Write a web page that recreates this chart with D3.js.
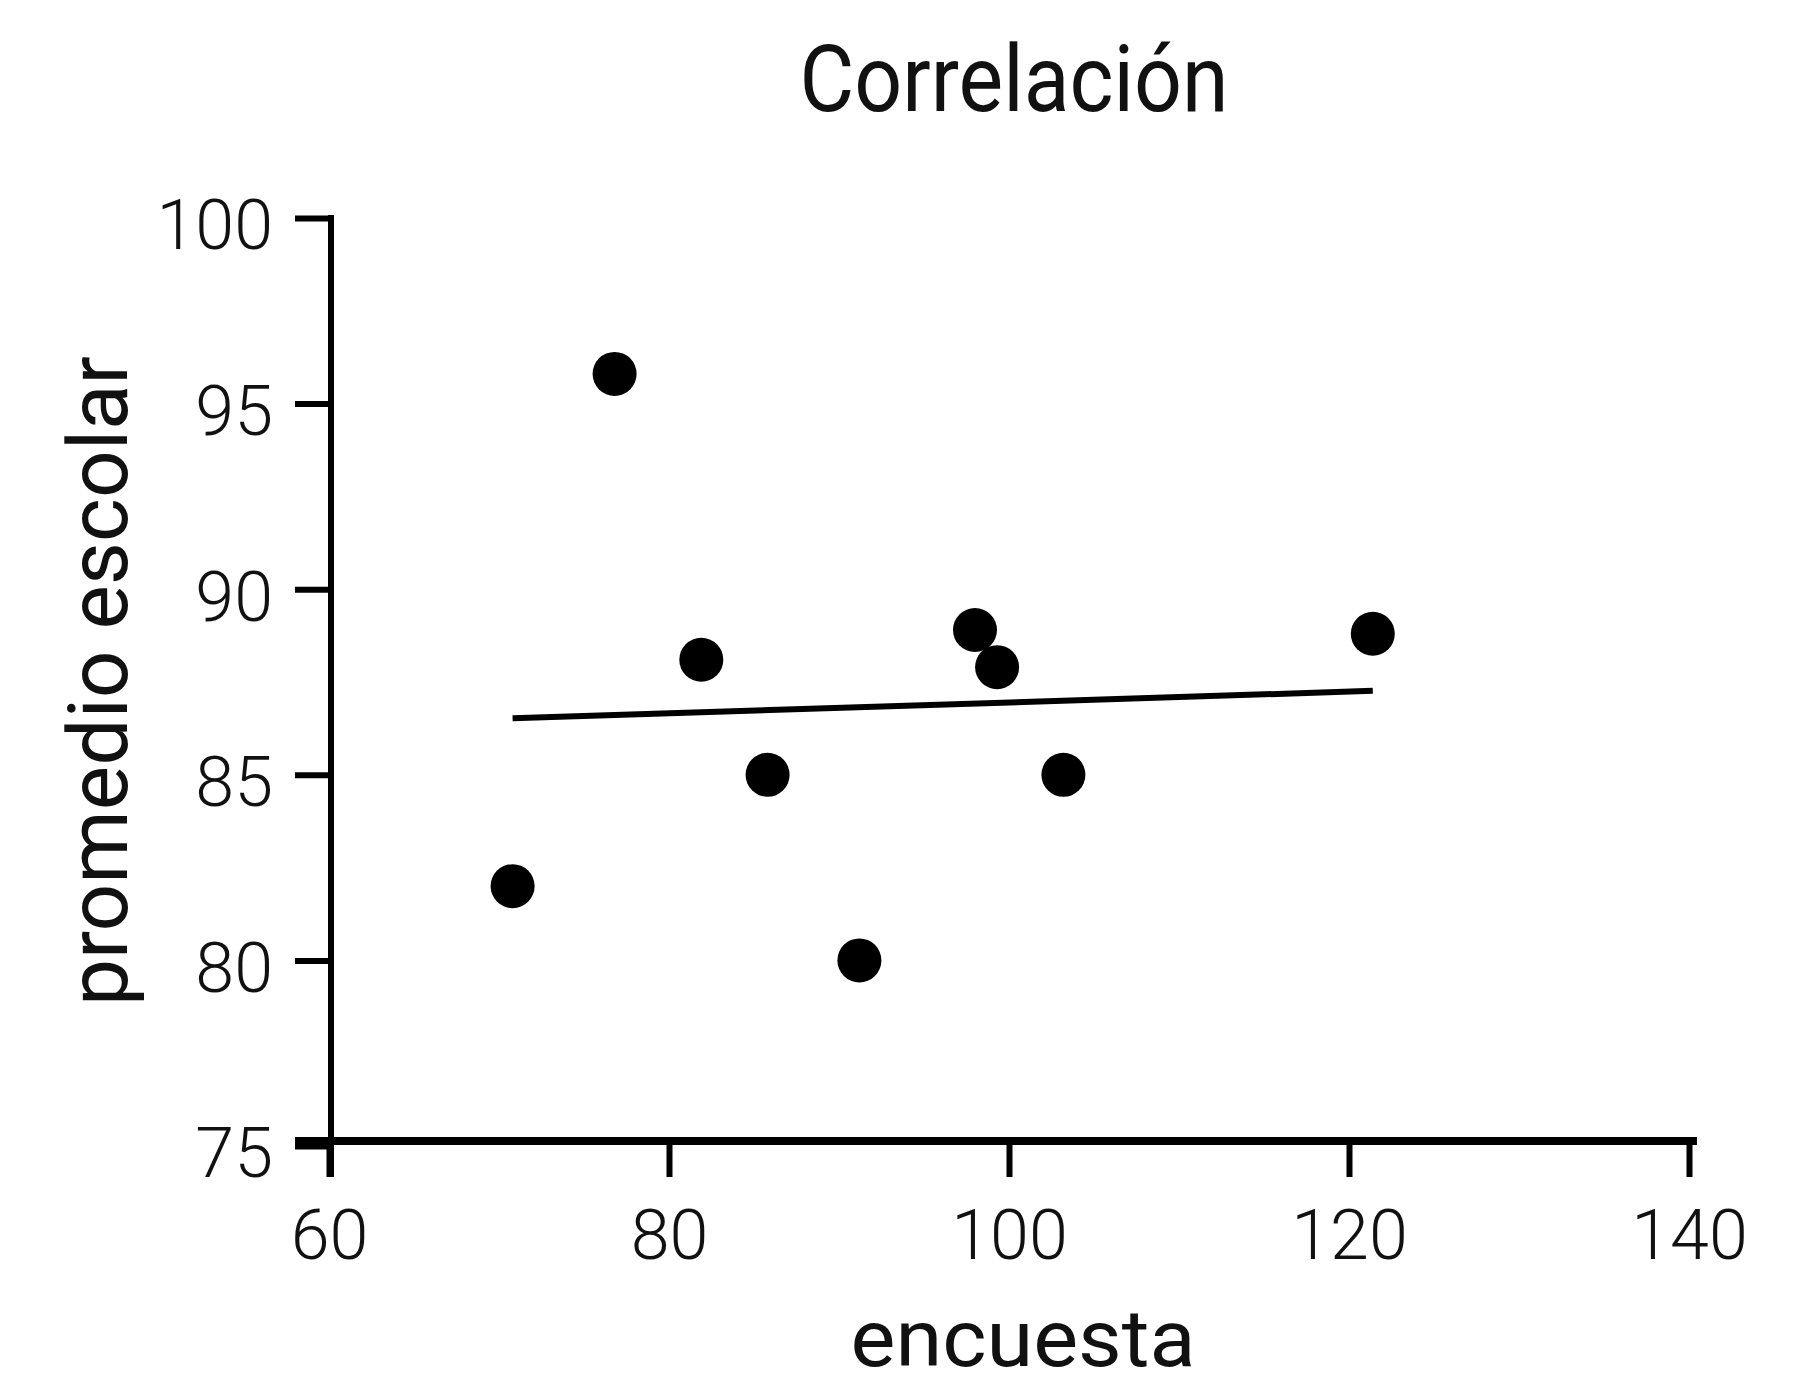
<!DOCTYPE html>
<html>
<head>
<meta charset="utf-8">
<script src="https://cdn.jsdelivr.net/npm/d3@7"></script>
<style>
  body { margin: 0; background: #fff; }
  text { font-family: Roboto, "Open Sans", sans-serif; fill: #111; }
</style>
</head>
<body>
<svg width="1803" height="1389"></svg>
<script>
let svg = d3.select('svg');

// data
let encuesta = [70.8, 76.8, 81.9, 85.8, 91.2, 98.0, 99.3, 103.2, 121.4];
let promedio = [82.0, 95.8, 88.1, 85.0, 80.0, 88.9, 87.9, 85.0, 88.8];
let xTicks = [60, 80, 100, 120, 140];
let yTicks = [75, 80, 85, 90, 95, 100];

let points = encuesta.map((d, i) => ({ x: d, y: promedio[i] }));

let xScale = d3.scaleLinear().domain([60, 140]).range([329, 1689]);
let yScale = d3.scaleLinear().domain([75, 100]).range([1146, 218]);

let axisY = 1141;   // where the x axis sits
let tickLen = 36;

// title
svg.append('text')
    .attr('x', 1014)
    .attr('y', 111)
    .attr('text-anchor', 'middle')
    .attr('font-size', '92px')
    .attr('textLength', 429)
    .attr('lengthAdjust', 'spacingAndGlyphs')
    .text('Correlación');

// y axis
let yAxis = d3.axisLeft(yScale).tickValues(yTicks).tickSize(tickLen).tickPadding(22);
let yG = svg.append('g')
    .attr('transform', 'translate(331,0)')
    .call(yAxis);
yG.select('.domain').remove();
yG.selectAll('.tick line').attr('stroke', '#000').attr('stroke-width', 6);
yG.selectAll('.tick text')
    .attr('font-size', '70px')
    .attr('font-family', 'Roboto')
    .attr('font-weight', 300)
    .attr('fill', '#111')
    .attr('dy', '0.44em');

svg.append('line')
    .attr('x1', 331).attr('x2', 331)
    .attr('y1', yScale(100) - 3)
    .attr('y2', axisY + tickLen)
    .attr('stroke', '#000')
    .attr('stroke-width', 6);

// x axis
let xAxis = d3.axisBottom(xScale).tickValues(xTicks).tickSize(tickLen).tickPadding(32);
let xG = svg.append('g')
    .attr('transform', 'translate(0,' + axisY + ')')
    .call(xAxis);
xG.select('.domain').remove();
xG.selectAll('.tick line').attr('stroke', '#000').attr('stroke-width', 6);
xG.selectAll('.tick text')
    .attr('font-size', '70px')
    .attr('font-family', 'Roboto')
    .attr('font-weight', 300)
    .attr('fill', '#111');

svg.append('line')
    .attr('x1', 331 - tickLen)
    .attr('x2', xScale(140) + 8)
    .attr('y1', axisY).attr('y2', axisY)
    .attr('stroke', '#000')
    .attr('stroke-width', 8);

// axis titles
svg.append('text')
    .attr('x', 1023)
    .attr('y', 1366)
    .attr('text-anchor', 'middle')
    .attr('font-size', '80px')
    .attr('textLength', 345)
    .attr('lengthAdjust', 'spacingAndGlyphs')
    .text('encuesta');

svg.append('text')
    .attr('transform', 'translate(127,681) rotate(-90)')
    .attr('text-anchor', 'middle')
    .attr('font-size', '84px')
    .attr('textLength', 650)
    .attr('lengthAdjust', 'spacingAndGlyphs')
    .text('promedio escolar');

// least squares trend line
let mx = d3.mean(points, d => d.x);
let my = d3.mean(points, d => d.y);
let slope = d3.sum(points, d => (d.x - mx) * (d.y - my)) / d3.sum(points, d => (d.x - mx) * (d.x - mx));
let x0 = d3.min(encuesta), x1 = d3.max(encuesta);

svg.append('line')
    .attr('x1', xScale(x0))
    .attr('y1', yScale(my + slope * (x0 - mx)))
    .attr('x2', xScale(x1))
    .attr('y2', yScale(my + slope * (x1 - mx)))
    .attr('stroke', '#000')
    .attr('stroke-width', 6);

// dots
svg.selectAll('.dot').data(points).enter().append('circle')
    .attr('class', 'dot')
    .attr('cx', d => xScale(d.x))
    .attr('cy', d => yScale(d.y))
    .attr('r', 22)
    .attr('fill', '#000');
</script>
</body>
</html>
